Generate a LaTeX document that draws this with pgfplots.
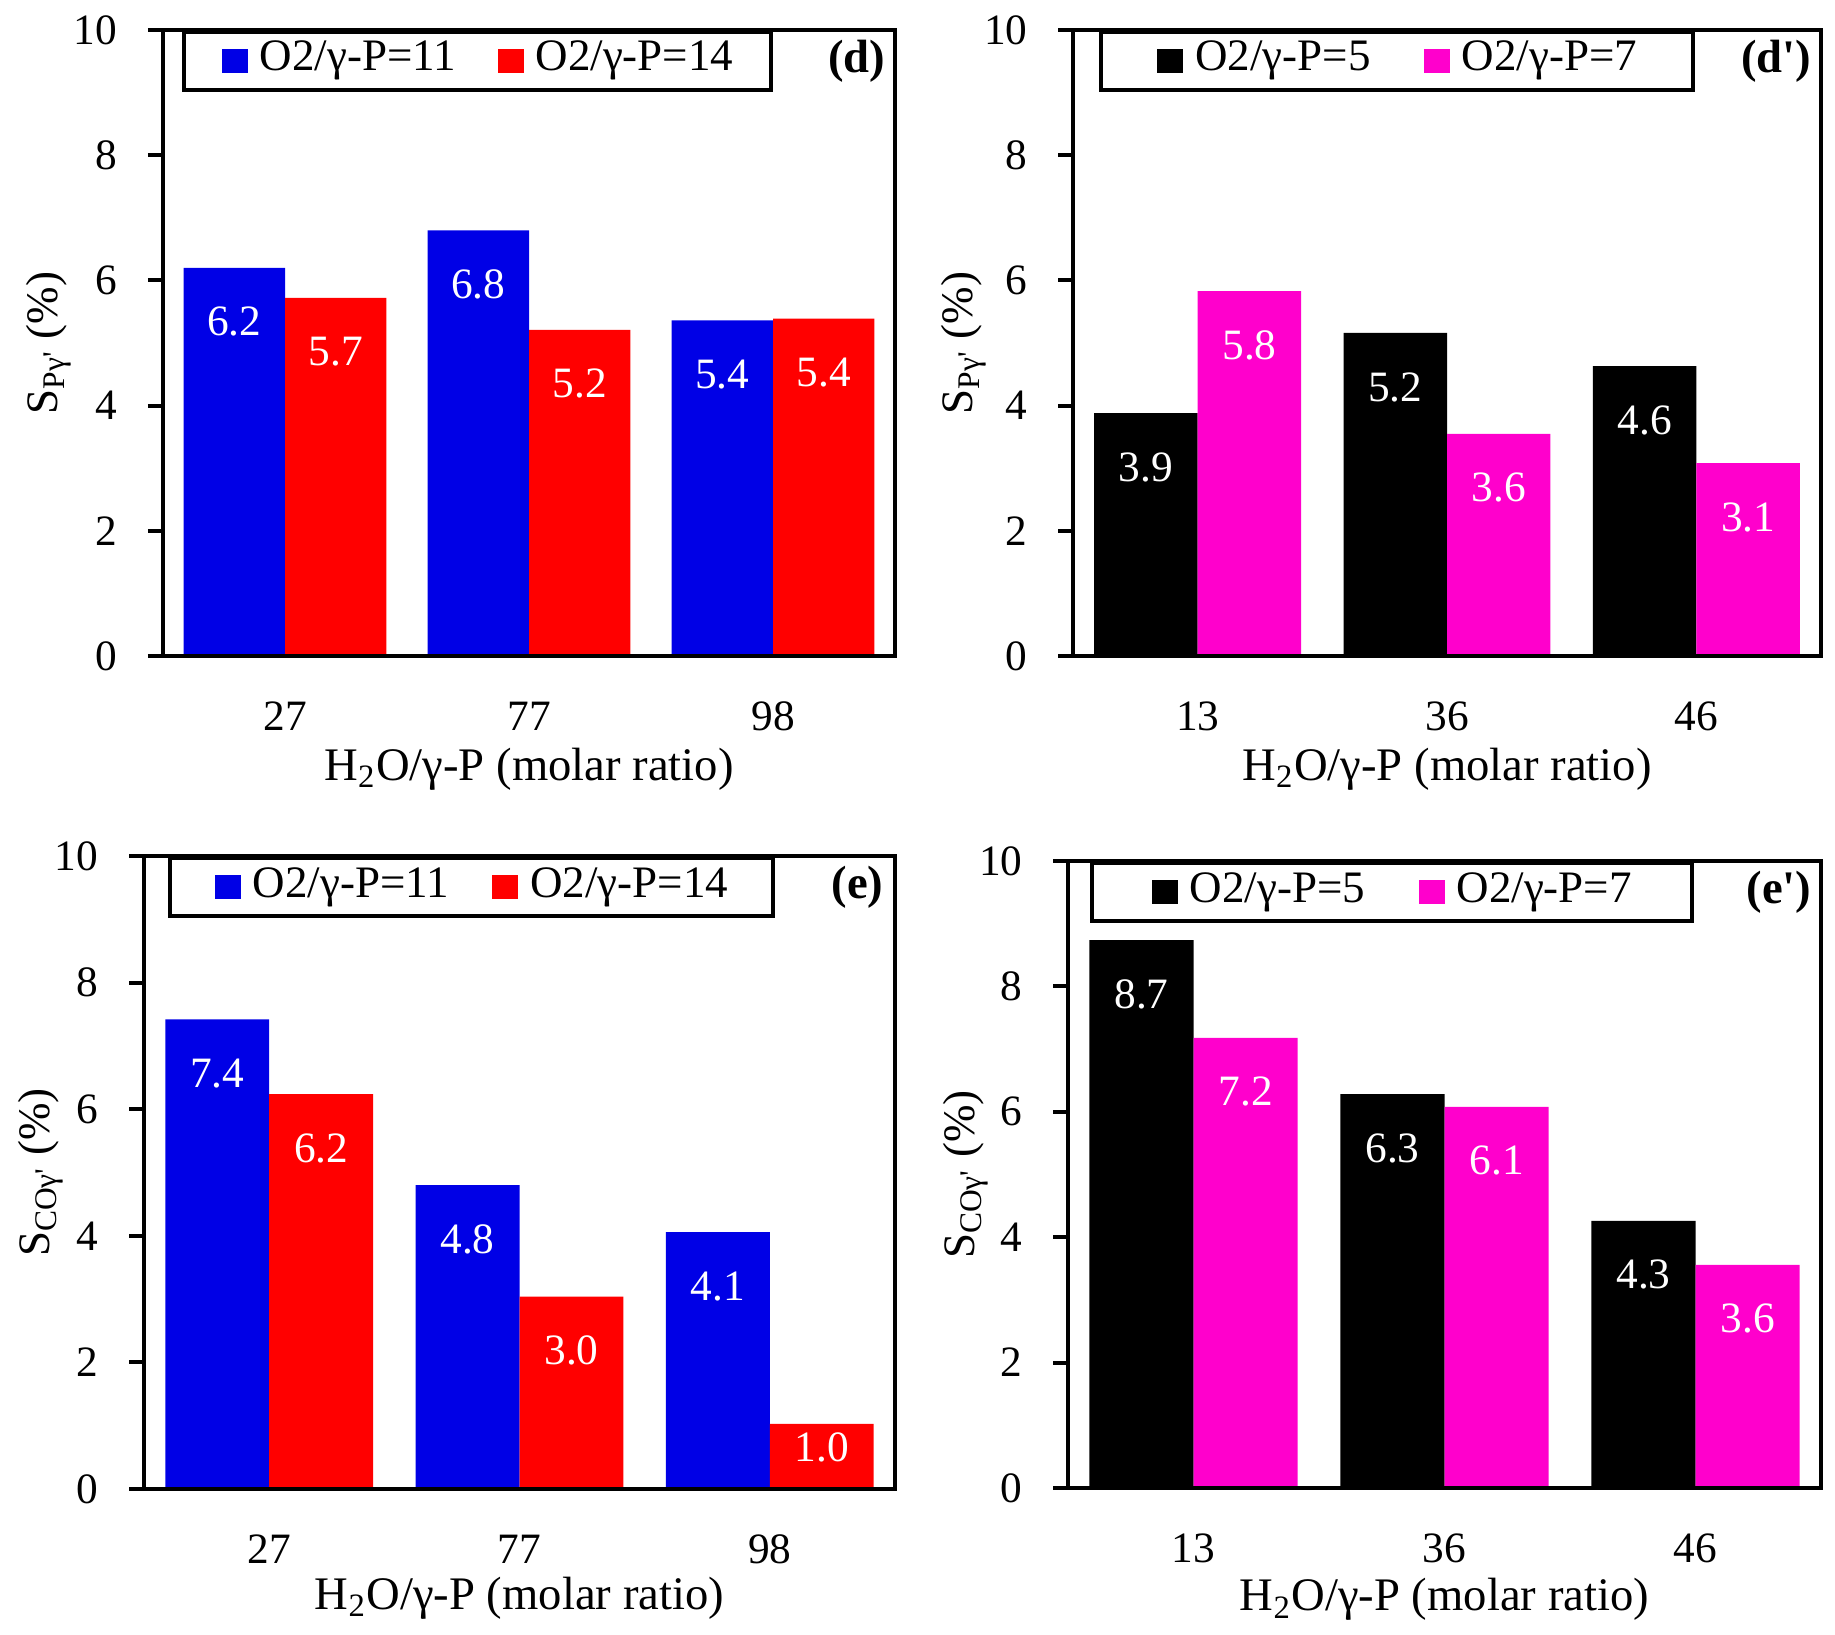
\documentclass[border=0pt]{standalone}
\usepackage{fontspec}
\setmainfont{Liberation Serif}[Ligatures=TeXOff]
\usepackage{pgfplots}
\pgfplotsset{compat=1.18}
\definecolor{myblue}{RGB}{0,0,230}
\definecolor{myred}{RGB}{255,0,0}
\definecolor{mypink}{RGB}{255,0,204}

\tikzset{plab/.style={anchor=east, font=\fontsize{14pt}{16pt}\selectfont\bfseries, inner sep=0pt}}
\pgfplotsset{
  panel/.style={
    scale only axis,
    anchor=south west,
    ybar, bar width=0.415,
    xmin=-0.5, xmax=2.5, ymin=0, ymax=10,
    ytick={0,2,4,6,8,10},
    xtick={0,1,2},
    ytick pos=left,
    tick align=outside,
    major tick length=4.5pt,
    xtick style={draw=none},
    ytick style={line width=1.2pt, black},
    axis line style={line width=1.2pt},
    axis on top,
    /pgf/number format/assume math mode=true,
    yticklabel style={inner sep=0pt, xshift=-9pt},
    xticklabel style={anchor=center, inner sep=0pt, yshift=-13.5pt},
    every axis x label/.style={at={(axis description cs:0.5,0)}, anchor=center, yshift=-34pt, font=\fontsize{14pt}{16pt}\selectfont},
    xlabel={H\textsubscript{2}O/γ-P (molar ratio)},
    nodes near coords={\pgfmathprintnumber[fixed,fixed zerofill,precision=1]{\pgfplotspointmeta}},
    every node near coord/.append style={white, anchor=center, yshift=-16.2pt, inner sep=0pt},
    legend columns=2,
    legend image code/.code={\fill[##1,draw=none] (0pt,-3.6pt) rectangle (7.8pt,3.6pt);},
    legend style={draw=black, line width=1.2pt, anchor=north west, inner sep=0pt,
      minimum height=17.4pt, font=\fontsize{13.5pt}{15pt}\selectfont,
      nodes={inner sep=0pt, minimum width=0pt, minimum height=0pt, text height=9pt, text depth=3pt},
      /tikz/every odd column/.append style={column sep=3.6pt}},
  },
  ylab/.style={every axis y label/.style={at={(axis description cs:#1,0.5)}, rotate=90, anchor=center, font=\fontsize{13.5pt}{15pt}\selectfont}},
}

\begin{document}
\begin{tikzpicture}[font=\fontsize{13pt}{15pt}\selectfont]
\path[use as bounding box] (0,0) rectangle (550.5pt,490.2pt);

% (d)
\begin{axis}[panel, at={(48.9pt,293.4pt)}, width=219.6pt, height=187.8pt,
  xticklabels={27,77,98},
  ylabel={S\textsubscript{Pγ'} (\%)}, ylab=-0.156,
  legend style={at={(0.026,1)}, minimum width=176.1pt, /tikz/every even column/.append style={column sep=12.5pt}}]
\addplot[fill=myblue, draw=none, bar shift=-0.2075] coordinates {(0,6.2) (1,6.8) (2,5.36)};
\addplot[fill=myred, draw=none, bar shift=0.2075] coordinates {(0,5.72) (1,5.21) (2,5.39)};
\addlegendentry{O2/γ-P=11}
\addlegendentry{O2/γ-P=14}
\node[plab] at (rel axis cs:1,1) [xshift=-2.7pt, yshift=-9.3pt] {(d)};
\end{axis}

% (d')
\begin{axis}[panel, at={(321.9pt,293.4pt)}, width=224.4pt, height=187.8pt,
  xticklabels={13,36,46},
  ylabel={S\textsubscript{Pγ'} (\%)}, ylab=-0.146,
  legend style={at={(0.035,1)}, minimum width=177.6pt, /tikz/every even column/.append style={column sep=16pt}}]
\addplot[fill=black, draw=none, bar shift=-0.2075] coordinates {(0,3.88) (1,5.16) (2,4.63)};
\addplot[fill=mypink, draw=none, bar shift=0.2075] coordinates {(0,5.83) (1,3.55) (2,3.08)};
\addlegendentry{O2/γ-P=5}
\addlegendentry{O2/γ-P=7}
\node[plab] at (rel axis cs:1,1) [xshift=-2.7pt, yshift=-9.3pt] {(d')};
\end{axis}

% (e)
\begin{axis}[panel, at={(43.2pt,43.5pt)}, width=225.3pt, height=189.9pt,
  xticklabels={27,77,98},
  ylabel={S\textsubscript{COγ'} (\%)}, ylab=-0.138,
  every axis x label/.style={at={(axis description cs:0.5,0)}, anchor=center, yshift=-32.8pt, font=\fontsize{14pt}{16pt}\selectfont},
  legend style={at={(0.032,1)}, minimum width=180.9pt, /tikz/every even column/.append style={column sep=13pt}}]
\addplot[fill=myblue, draw=none, bar shift=-0.2075] coordinates {(0,7.42) (1,4.8) (2,4.06)};
\addplot[fill=myred, draw=none, bar shift=0.2075, coordinate style/.condition={y<2}{yshift=9pt}] coordinates {(0,6.24) (1,3.04) (2,1.03)};
\addlegendentry{O2/γ-P=11}
\addlegendentry{O2/γ-P=14}
\node[plab] at (rel axis cs:1,1) [xshift=-3.3pt, yshift=-9.3pt] {(e)};
\end{axis}

% (e')
\begin{axis}[panel, at={(320.4pt,43.8pt)}, width=225.9pt, height=188.1pt,
  xticklabels={13,36,46},
  ylabel={S\textsubscript{COγ'} (\%)}, ylab=-0.136,
  every axis x label/.style={at={(axis description cs:0.5,0)}, anchor=center, yshift=-33.5pt, font=\fontsize{14pt}{16pt}\selectfont},
  legend style={at={(0.029,1)}, minimum width=180pt, /tikz/every even column/.append style={column sep=16pt}}]
\addplot[fill=black, draw=none, bar shift=-0.2075] coordinates {(0,8.74) (1,6.28) (2,4.26)};
\addplot[fill=mypink, draw=none, bar shift=0.2075] coordinates {(0,7.18) (1,6.08) (2,3.56)};
\addlegendentry{O2/γ-P=5}
\addlegendentry{O2/γ-P=7}
\node[plab] at (rel axis cs:1,1) [xshift=-2.7pt, yshift=-9.3pt] {(e')};
\end{axis}
\end{tikzpicture}
\end{document}
